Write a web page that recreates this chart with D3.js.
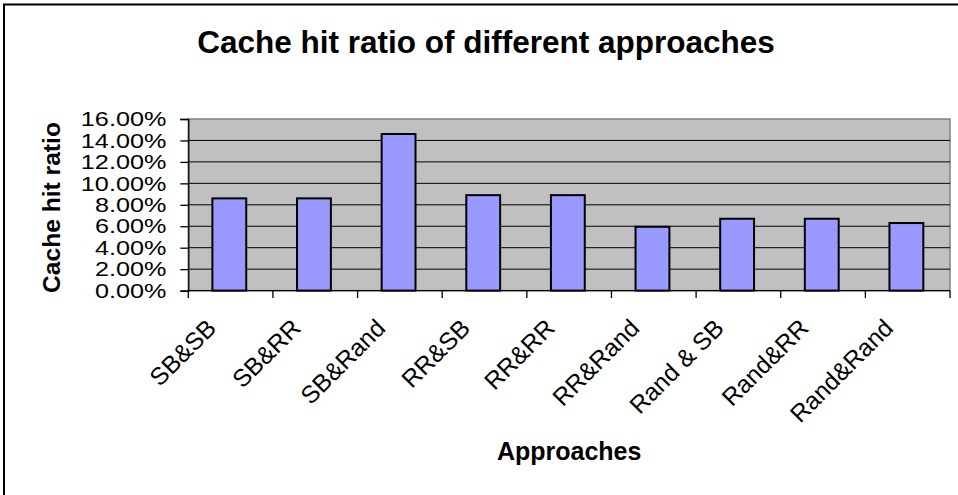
<!DOCTYPE html>
<html>
<head>
<meta charset="utf-8">
<script src="https://cdn.jsdelivr.net/npm/d3@7/dist/d3.min.js"></script>
<style>
  html, body { margin: 0; padding: 0; background: #fff; }
  svg { display: block; }
  text { font-family: Arial, "Liberation Sans", sans-serif; fill: #000; }
</style>
</head>
<body>
<svg id="chart" width="958" height="495"></svg>
<script>
const categories = ["SB&SB", "SB&RR", "SB&Rand", "RR&SB", "RR&RR", "RR&Rand", "Rand & SB", "Rand&RR", "Rand&Rand"];
const hitRatio = [0.086, 0.086, 0.146, 0.089, 0.089, 0.0595, 0.067, 0.067, 0.063];
const yTickValues = [0, 0.02, 0.04, 0.06, 0.08, 0.10, 0.12, 0.14, 0.16];
const titleText = "Cache hit ratio of different approaches";
const xTitle = "Approaches";
const yTitle = "Cache hit ratio";

const svg = d3.select("#chart");
const W = 958, H = 495;
const plot = { left: 188.3, right: 950, top: 119, bottom: 290.6 };

// outer frame (left + top edges visible)
svg.append("line").attr("x1", 4).attr("y1", 4).attr("x2", 4).attr("y2", H)
  .attr("stroke", "#000").attr("stroke-width", 2);
svg.append("line").attr("x1", 3).attr("y1", 4.5).attr("x2", W).attr("y2", 4.5)
  .attr("stroke", "#000").attr("stroke-width", 2);

const x = d3.scaleBand().domain(categories)
  .range([plot.left, plot.right]).paddingInner(0.6).paddingOuter(0.3);
const y = d3.scaleLinear().domain([0, 0.16]).range([plot.bottom, plot.top]);

// plot background
svg.append("rect").attr("x", plot.left).attr("y", plot.top)
  .attr("width", plot.right - plot.left).attr("height", plot.bottom - plot.top)
  .attr("fill", "#C0C0C0").attr("stroke", "#808080").attr("stroke-width", 1.5);

// gridlines
svg.append("g").selectAll("line").data(yTickValues.filter(d => d > 0 && d < 0.16)).join("line")
  .attr("x1", plot.left).attr("x2", plot.right)
  .attr("y1", d => y(d)).attr("y2", d => y(d))
  .attr("stroke", "#000").attr("stroke-width", 1);

// bars
svg.append("g").selectAll("rect").data(categories).join("rect")
  .attr("x", d => x(d) - 1.3).attr("width", x.bandwidth())
  .attr("y", (d, i) => y(hitRatio[i]))
  .attr("height", (d, i) => y(0) - y(hitRatio[i]))
  .attr("fill", "#9999FF").attr("stroke", "#000").attr("stroke-width", 2);

// y axis
const yAxis = svg.append("g").attr("transform", `translate(${plot.left},0)`)
  .call(d3.axisLeft(y).tickValues(yTickValues).tickSize(8).tickPadding(22)
    .tickFormat(d3.format(".2%")));
yAxis.select(".domain").attr("stroke", "#000").attr("stroke-width", 1.3);
yAxis.selectAll(".tick line").attr("stroke", "#000").attr("stroke-width", 1.3);
yAxis.selectAll(".tick text")
  .attr("font-size", 21).attr("font-family", "Arial, 'Liberation Sans', sans-serif")
  .attr("fill", "#000")
  .attr("x", -22 / 1.2).attr("transform", "scale(1.2,1)");

// x axis line and ticks at category boundaries
const step = x.step();
const boundaries = d3.range(categories.length + 1).map(i => plot.left + i * step);
svg.append("line").attr("x1", plot.left).attr("x2", plot.right)
  .attr("y1", plot.bottom).attr("y2", plot.bottom)
  .attr("stroke", "#000").attr("stroke-width", 1.3);
svg.append("g").selectAll("line").data(boundaries).join("line")
  .attr("x1", d => d).attr("x2", d => d)
  .attr("y1", plot.bottom).attr("y2", plot.bottom + 7.5)
  .attr("stroke", "#000").attr("stroke-width", 1.3);

// x labels rotated
svg.append("g").selectAll("text").data(categories).join("text")
  .attr("transform", d => `translate(${x(d) + x.bandwidth() / 2 - 13},${plot.bottom + 39}) rotate(-45)`)
  .attr("text-anchor", "end")
  .attr("font-size", 24.5)
  .text(d => d);

// titles
svg.append("text").attr("x", 486).attr("y", 53).attr("text-anchor", "middle")
  .attr("font-size", 31.5).attr("font-weight", "bold").text(titleText);
svg.append("text").attr("x", (plot.left + plot.right) / 2).attr("y", 460)
  .attr("text-anchor", "middle").attr("font-size", 25).attr("font-weight", "bold")
  .text(xTitle);
svg.append("text").attr("transform", `translate(59.5,${(122 + 293) / 2}) rotate(-90)`)
  .attr("text-anchor", "middle").attr("font-size", 24.6).attr("font-weight", "bold")
  .text(yTitle);
</script>
</body>
</html>
